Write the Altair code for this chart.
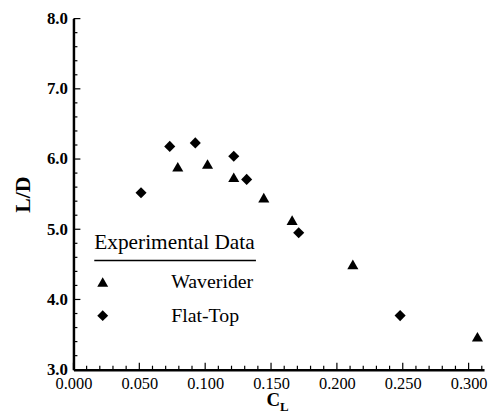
import altair as alt
import pandas as pd

# ---- data ----
wave_cl = [0.0792, 0.1018, 0.1217, 0.1445, 0.1660, 0.2121, 0.3067]
wave_ld = [5.89, 5.93, 5.74, 5.45, 5.13, 4.50, 3.47]
flat_cl = [0.0513, 0.0731, 0.0925, 0.1217, 0.1315, 0.1710, 0.2480]
flat_ld = [5.52, 6.18, 6.23, 6.04, 5.71, 4.95, 3.77]
series = ["Waverider", "Flat-Top"]

x_major = [0.0, 0.05, 0.10, 0.15, 0.20, 0.25, 0.30]
x_minor = [0.01, 0.02, 0.03, 0.04, 0.06, 0.07, 0.08, 0.09, 0.11, 0.12, 0.13, 0.14,
           0.16, 0.17, 0.18, 0.19, 0.21, 0.22, 0.23, 0.24, 0.26, 0.27, 0.28, 0.29,
           0.31]
y_major = [3.0, 4.0, 5.0, 6.0, 7.0, 8.0]
y_minor = [3.2, 3.4, 3.6, 3.8, 4.2, 4.4, 4.6, 4.8, 5.2, 5.4, 5.6, 5.8,
           6.2, 6.4, 6.6, 6.8, 7.2, 7.4, 7.6, 7.8]

FONT = "'Liberation Serif', 'Times New Roman', Times, serif"
W, H = 414, 354

pts = pd.DataFrame({
    "CL": wave_cl + flat_cl,
    "LD": wave_ld + flat_ld,
    "Series": [series[0]] * len(wave_cl) + [series[1]] * len(flat_cl),
})

xscale = alt.Scale(domain=[0, 0.3117], nice=False, zero=False)
yscale = alt.Scale(domain=[3, 8], nice=False, zero=False)

xaxis = alt.Axis(values=x_major, format=".3f", grid=False, ticks=False, labelFlush=False,
                 domainColor="black", domainWidth=2.5,
                 labelFont=FONT, labelFontSize=16.5, labelColor="black", labelPadding=6,
                 title=None)
yaxis = alt.Axis(values=y_major, format=".1f", grid=False, ticks=False, labelFlush=False,
                 domainColor="black", domainWidth=2.5,
                 labelFont=FONT, labelFontSize=17, labelFontWeight="bold",
                 labelColor="black", labelPadding=6,
                 title="L/D", titleFont=FONT, titleFontSize=22, titleFontWeight="bold",
                 titleColor="black", titlePadding=12)

points = alt.Chart(pts).mark_point(filled=True, size=125, opacity=1, color="black").encode(
    x=alt.X("CL:Q", scale=xscale, axis=xaxis),
    y=alt.Y("LD:Q", scale=yscale, axis=yaxis),
    shape=alt.Shape("Series:N", sort=series,
                    scale=alt.Scale(domain=series, range=["triangle-up", "diamond"]),
                    legend=alt.Legend(orient="none", legendX=21, legendY=215,
                                      title="Experimental Data", titleFont=FONT,
                                      titleFontSize=21.5, titleFontWeight="normal",
                                      titleColor="black", titlePadding=19,
                                      labelFont=FONT, labelFontSize=20, labelColor="black",
                                      labelOffset=59, rowPadding=14, symbolSize=121,
                                      symbolFillColor="black", symbolStrokeColor="black",
                                      symbolStrokeWidth=0, symbolOffset=-1.5, padding=0)),
)

xmaj = alt.Chart(pd.DataFrame({"v": x_major})).mark_rule(color="black", strokeWidth=1.2).encode(
    x=alt.X("v:Q", scale=xscale), y=alt.value(H), y2=alt.value(H - 7))
xmin = alt.Chart(pd.DataFrame({"v": x_minor})).mark_rule(color="black", strokeWidth=1.2).encode(
    x=alt.X("v:Q", scale=xscale), y=alt.value(H), y2=alt.value(H - 4))
ymaj = alt.Chart(pd.DataFrame({"v": y_major})).mark_rule(color="black", strokeWidth=1.2).encode(
    y=alt.Y("v:Q", scale=yscale), x=alt.value(0), x2=alt.value(7))
ymin = alt.Chart(pd.DataFrame({"v": y_minor})).mark_rule(color="black", strokeWidth=1.2).encode(
    y=alt.Y("v:Q", scale=yscale), x=alt.value(0), x2=alt.value(4))

one = alt.Data(values=[{"k": 1}])
underline = alt.Chart(one).mark_rule(color="black", strokeWidth=1.5).encode(
    x=alt.value(21), x2=alt.value(184), y=alt.value(244))
xtitle = alt.Chart(one).mark_text(font=FONT, fontSize=19, fontWeight="bold",
                                  color="black", align="center", baseline="alphabetic").encode(
    x=alt.value(201.5), y=alt.value(390.5), text=alt.value("C"))
subscript = alt.Chart(one).mark_text(font=FONT, fontSize=13, fontWeight="bold",
                                     color="black", align="center", baseline="alphabetic").encode(
    x=alt.value(212.5), y=alt.value(395.5), text=alt.value("L"))

chart = alt.layer(xmin, xmaj, ymin, ymaj, points, underline, xtitle, subscript).properties(
    width=W, height=H, padding={"left": 3, "top": 0, "right": 0, "bottom": 0},
    background="white",
).configure_view(stroke=None)

chart.save("out.html", embed_options={"renderer": "svg", "actions": False})
